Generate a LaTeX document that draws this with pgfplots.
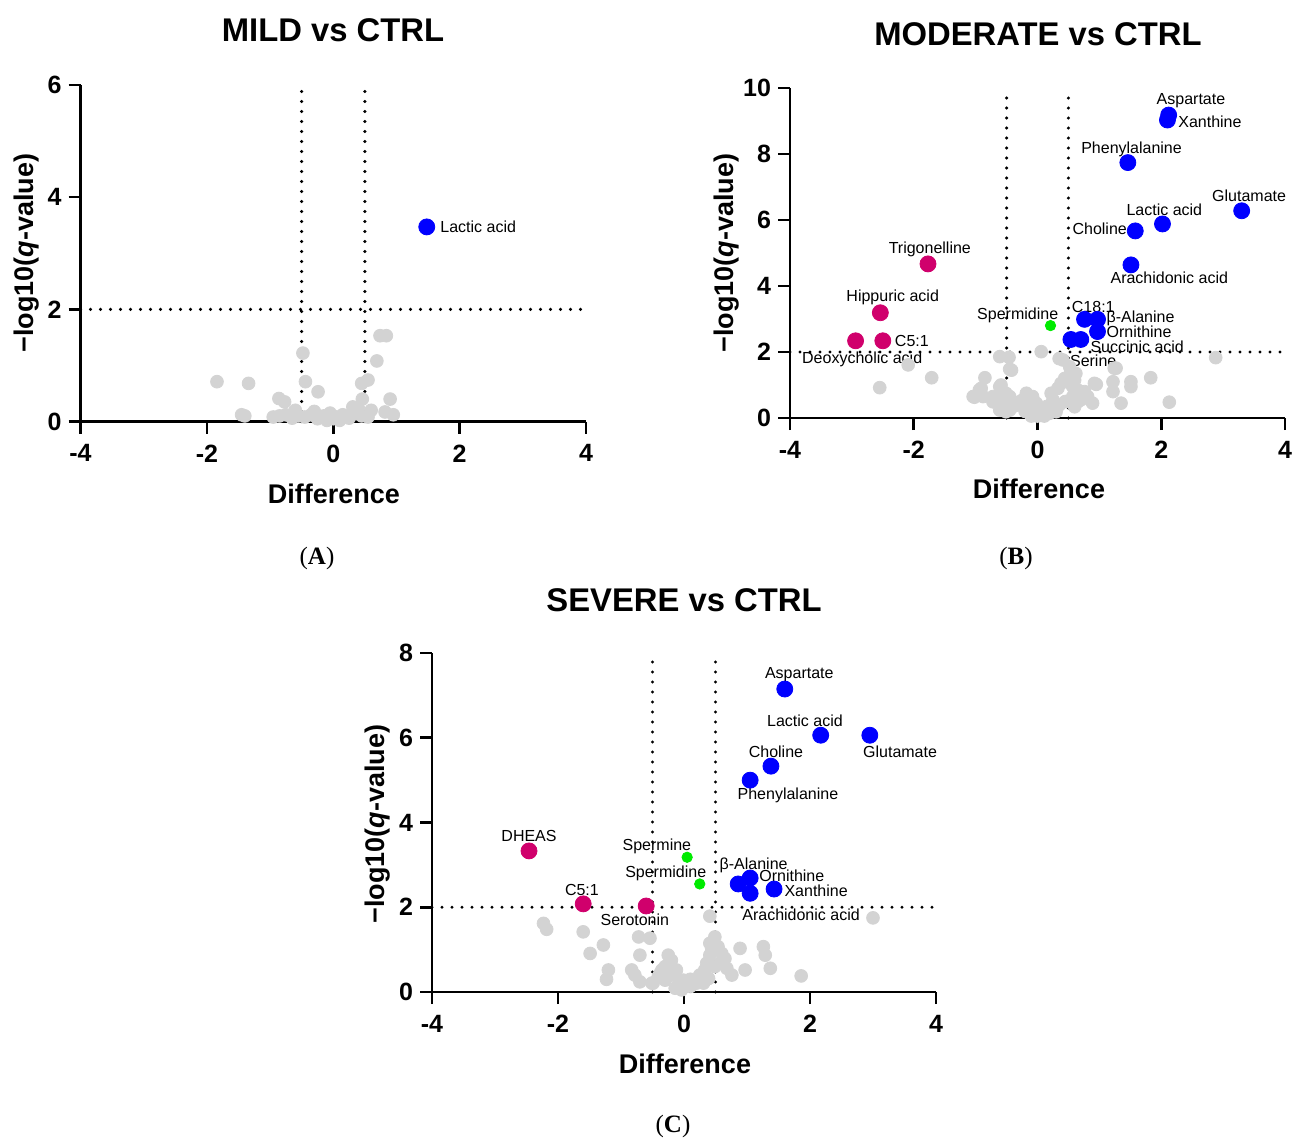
\documentclass[border=0pt]{standalone}
\usepackage{fontspec}
\setmainfont{Liberation Sans}
\newfontfamily\serif{Liberation Serif}
\usepackage{pgfplots}
\pgfplotsset{compat=1.18}
\definecolor{ptgrey}{RGB}{211,211,211}
\definecolor{ptblue}{RGB}{0,0,255}
\definecolor{ptred}{RGB}{208,0,108}
\definecolor{ptgreen}{RGB}{0,235,0}

\tikzset{
  lab/.style={font=\fontsize{8}{9}\selectfont, inner sep=0pt},
  cut/.style={black, line width=1.7pt, line cap=round, dash pattern=on 0pt off 5pt},
}
\pgfplotsset{
  volcano/.style={
    scale only axis,
    axis lines=left,
    axis line style={-, line width=1.3pt},
    xmin=-4, xmax=4,
    xtick={-4,-2,0,2,4},
    xticklabels={-4,-2,0,2,4},
    tick style={line width=1.3pt, black},
    major tick length=6pt,
    tick align=outside,
    ticklabel style={font=\fontsize{12.5}{14}\selectfont\bfseries},
    xticklabel style={yshift=-2pt},
    clip=false,
  },
  grey pts/.style={only marks, mark=*, mark size=3.2pt, color=ptgrey},
  blue pts/.style={only marks, mark=*, mark size=4pt, color=ptblue},
  red pts/.style={only marks, mark=*, mark size=4pt, color=ptred},
  green pts/.style={only marks, mark=*, mark size=2.6pt, color=ptgreen},
}

\begin{document}
\begin{tikzpicture}
\path[use as bounding box] (0,0) rectangle (651pt,-568.5pt);

% ---------- A: MILD vs CTRL
\begin{axis}[volcano, at={(40.25pt,-210.75pt)}, anchor=south west,
  width=252.75pt, height=168.25pt,
  ymin=0, ymax=6, ytick={0,2,4,6}, yticklabels={0,2,4,6}]
  \addplot[grey pts] coordinates {
    (-1.84,0.71) (-1.34,0.68) (-1.45,0.12) (-1.40,0.10) (-0.48,1.22)
    (-0.44,0.71) (-0.24,0.53) (-0.86,0.41) (-0.77,0.35) (0.74,1.53)
    (0.84,1.53) (0.69,1.08) (0.55,0.74) (0.45,0.68) (0.90,0.40)
    (0.46,0.40) (0.31,0.26) (0.82,0.17) (0.95,0.12)
    (-0.95,0.08) (-0.85,0.10) (-0.75,0.12) (-0.65,0.06) (-0.55,0.10)
    (-0.45,0.08) (-0.35,0.12) (-0.25,0.05) (-0.15,0.10) (-0.05,0.15)
    (0.05,0.08) (0.15,0.12) (0.25,0.06) (0.35,0.14) (0.45,0.10)
    (0.55,0.08) (0.60,0.20) (-0.60,0.20) (-0.10,0.02) (0.10,0.02)
    (0.00,0.05) (0.40,0.22) (-0.30,0.18)
  };
  \addplot[cut] coordinates {(-0.5,0) (-0.5,6)};
  \addplot[cut] coordinates {(0.5,0) (0.5,6)};
  \addplot[cut] coordinates {(-4,2) (4,2)};
  \addplot[blue pts] coordinates {(1.48,3.47)};
  \node[lab, anchor=west] at (axis cs:1.69,3.47) {Lactic acid};
\end{axis}

% ---------- B: MODERATE vs CTRL
\begin{axis}[volcano, at={(395pt,-209pt)}, anchor=south west,
  width=247.5pt, height=165pt,
  ymin=0, ymax=10, ytick={0,2,4,6,8,10}, yticklabels={0,2,4,6,8,10}]
  \addplot[grey pts] coordinates {
    (-2.09,1.61) (-1.71,1.22) (-2.55,0.92) (-0.61,1.86) (-0.46,1.84)
    (-0.45,1.48) (-0.85,1.22) (-0.91,0.90) (-0.61,0.95) (-1.02,0.63)
    (-0.88,0.65) (-0.59,0.63) (-0.45,0.65) (-0.40,0.34) (-0.29,0.45)
    (-0.18,0.55) (-0.08,0.39) (0.06,2.01) (-0.42,1.45) (-0.94,0.85)
    (-1.04,0.65) (-0.72,0.65) (-0.59,1.00) (-0.51,0.75) (-0.72,0.49)
    (-0.56,0.45) (-0.45,0.24) (-0.34,0.39) (-0.24,0.55) (-0.13,0.34)
    (-0.02,0.45) (0.09,0.19) (0.19,0.14) (0.30,0.19) (0.35,0.39)
    (0.25,0.55) (0.22,0.75) (0.33,0.90) (0.38,1.05) (0.44,1.20)
    (0.52,1.30) (0.60,1.15) (0.65,0.85) (0.57,0.65) (0.60,0.34)
    (0.70,0.55) (0.76,0.80) (0.81,0.65) (0.41,1.76) (0.35,1.80)
    (0.92,1.05) (1.22,1.10) (1.22,0.80) (1.24,1.51) (1.51,1.10)
    (1.51,0.95) (1.35,0.45) (0.89,0.45) (-0.08,0.65) (-0.18,0.75)
    (-0.29,0.49) (-0.10,0.06) (0.00,0.06) (0.11,0.06) (-0.61,0.24)
    (-0.51,0.19) (2.88,1.83) (1.83,1.22) (0.95,1.02) (2.13,0.48)
    (0.62,1.35) (0.52,1.55) (0.57,0.95) (0.73,0.75) (0.65,0.49)
    (1.27,1.51) (-0.20,0.20) (0.45,0.50) (0.15,0.35) (0.05,0.30)
  };
  \addplot[cut] coordinates {(-0.5,0) (-0.5,10)};
  \addplot[cut] coordinates {(0.5,0) (0.5,10)};
  \addplot[cut] coordinates {(-4,2) (4,2)};
  \addplot[green pts] coordinates {(0.21,2.80)};
  \addplot[red pts] coordinates {(-1.77,4.67) (-2.54,3.19) (-2.94,2.34) (-2.50,2.34)};
  \addplot[blue pts] coordinates {
    (2.12,9.18) (2.10,9.03) (1.46,7.74) (3.30,6.28) (2.02,5.88)
    (1.58,5.67) (1.51,4.64) (0.76,2.99) (0.97,2.99) (0.97,2.62)
    (0.54,2.38) (0.70,2.38)
  };
  \node[lab] at (axis cs:2.48,9.61) {Aspartate};
  \node[lab, anchor=west] at (axis cs:2.27,8.97) {Xanthine};
  \node[lab] at (axis cs:1.52,8.15) {Phenylalanine};
  \node[lab] at (axis cs:3.42,6.73) {Glutamate};
  \node[lab] at (axis cs:2.05,6.30) {Lactic acid};
  \node[lab, anchor=east] at (axis cs:1.45,5.73) {Choline};
  \node[lab] at (axis cs:2.13,4.24) {Arachidonic acid};
  \node[lab] at (axis cs:-1.74,5.12) {Trigonelline};
  \node[lab] at (axis cs:-2.34,3.67) {Hippuric acid};
  \node[lab, anchor=west] at (axis cs:-2.31,2.33) {C5:1};
  \node[lab, anchor=west] at (axis cs:-3.81,1.79) {Deoxycholic acid};
  \node[lab] at (axis cs:-0.32,3.12) {Spermidine};
  \node[lab, anchor=west] at (axis cs:0.55,3.36) {C18:1};
  \node[lab, anchor=west] at (axis cs:1.11,3.03) {β-Alanine};
  \node[lab, anchor=west] at (axis cs:1.11,2.60) {Ornithine};
  \node[lab, anchor=west] at (axis cs:0.85,2.17) {Succinic acid};
  \node[lab, anchor=west] at (axis cs:0.52,1.74) {Serine};
\end{axis}

% ---------- C: SEVERE vs CTRL
\begin{axis}[volcano, at={(216pt,-496pt)}, anchor=south west,
  width=252pt, height=169.5pt,
  ymin=0, ymax=8, ytick={0,2,4,6,8}, yticklabels={0,2,4,6,8}]
  \addplot[grey pts] coordinates {
    (-2.23,1.62) (-2.18,1.48) (-1.60,1.42) (-1.28,1.11) (-1.49,0.91)
    (-1.20,0.52) (-1.23,0.30) (-0.83,0.52) (-0.78,0.40) (-0.70,0.24)
    (-0.72,1.30) (-0.54,1.27) (-0.70,0.87) (-0.51,0.21) (-0.25,0.87)
    (-0.20,0.75) (-0.30,0.60) (-0.38,0.44) (-0.12,0.52) (-0.01,0.28)
    (-0.22,0.68) (-0.35,0.52) (-0.41,0.36) (-0.30,0.28) (-0.20,0.40)
    (-0.06,0.28) (0.02,0.17) (0.10,0.13) (0.20,0.21) (0.25,0.40)
    (0.33,0.52) (0.36,0.68) (0.41,0.87) (0.44,1.03) (0.41,1.15)
    (0.49,1.30) (0.54,1.07) (0.60,0.91) (0.57,0.68) (0.65,0.79)
    (0.68,0.56) (0.76,0.40) (0.49,0.60) (0.39,0.32) (0.31,0.21)
    (0.41,1.79) (-0.14,0.09) (-0.04,0.05) (-0.49,0.21) (0.97,0.52)
    (0.89,1.03) (1.26,1.07) (1.29,0.87) (1.37,0.56) (3.00,1.75)
    (1.86,0.38) (0.10,0.30) (-0.10,0.15)
  };
  \addplot[cut] coordinates {(-0.5,0) (-0.5,8)};
  \addplot[cut] coordinates {(0.5,0) (0.5,8)};
  \addplot[cut] coordinates {(-4,2) (4,2)};
  \addplot[green pts] coordinates {(0.05,3.18) (0.25,2.55)};
  \addplot[red pts] coordinates {(-2.46,3.33) (-1.60,2.08) (-0.60,2.03)};
  \addplot[blue pts] coordinates {
    (1.60,7.15) (2.17,6.06) (2.95,6.06) (1.38,5.33) (1.05,5.00)
    (0.86,2.55) (1.05,2.69) (1.05,2.33) (1.43,2.43)
  };
  \node[lab] at (axis cs:1.83,7.48) {Aspartate};
  \node[lab] at (axis cs:1.92,6.39) {Lactic acid};
  \node[lab] at (axis cs:3.43,5.68) {Glutamate};
  \node[lab] at (axis cs:1.46,5.68) {Choline};
  \node[lab] at (axis cs:1.65,4.65) {Phenylalanine};
  \node[lab] at (axis cs:-2.46,3.68) {DHEAS};
  \node[lab] at (axis cs:-1.62,2.41) {C5:1};
  \node[lab] at (axis cs:-0.78,1.70) {Serotonin};
  \node[lab] at (axis cs:-0.43,3.44) {Spermine};
  \node[lab] at (axis cs:-0.29,2.81) {Spermidine};
  \node[lab, anchor=west] at (axis cs:0.56,3.00) {β-Alanine};
  \node[lab, anchor=west] at (axis cs:1.19,2.74) {Ornithine};
  \node[lab, anchor=west] at (axis cs:1.59,2.38) {Xanthine};
  \node[lab, anchor=west] at (axis cs:0.92,1.82) {Arachidonic acid};
\end{axis}

% ---------- titles, axis labels, panel letters (pixel grid of the reference)
\begin{scope}[x=0.5pt, y=-0.5pt]
  \tikzset{ttl/.style={font=\fontsize{16.4}{18}\selectfont\bfseries},
           axl/.style={font=\fontsize{13.5}{15}\selectfont\bfseries},
           pnl/.style={font=\fontsize{12.5}{14}\selectfont\serif}}
  \node[ttl] at (333,30) {MILD vs CTRL};
  \node[ttl] at (1038,34) {MODERATE vs CTRL};
  \node[ttl] at (684,600) {SEVERE vs CTRL};
  \node[axl] at (334,494) {Difference};
  \node[axl] at (1039,489) {Difference};
  \node[axl] at (685,1064) {Difference};
  \node[axl, rotate=90] at (27,253) {−log10(\textit{q}-value)};
  \node[axl, rotate=90] at (727,253) {−log10(\textit{q}-value)};
  \node[axl, rotate=90] at (378,824) {−log10(\textit{q}-value)};
  \node[pnl] at (317,558) {(\textbf{A})};
  \node[pnl] at (1016,558) {(\textbf{B})};
  \node[pnl] at (673,1126) {(\textbf{C})};
\end{scope}
\end{tikzpicture}
\end{document}
